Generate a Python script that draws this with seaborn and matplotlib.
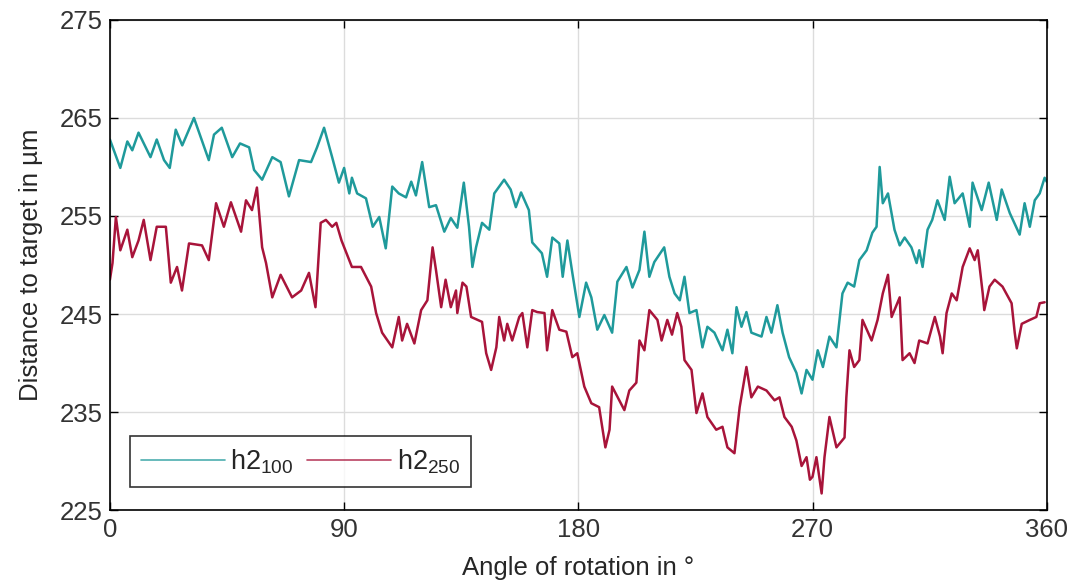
#!/usr/bin/env python3
# plot.py -- distance to target vs angle of rotation

import matplotlib
matplotlib.use('Agg')
import matplotlib.pyplot as plt
import pandas as pd
import seaborn as sns

# Data =========================================================================

angle_100 = [
    0, 4, 6.7, 8.6, 11, 15.6, 18, 20.8, 23, 25.3, 27.8, 32.3, 38, 40, 43, 47,
    50, 53.5, 55.4, 58.5, 62.4, 65.6, 68.8, 72.7, 77.3, 79.6, 82.3, 85.4, 88,
    90, 92, 93, 95, 98.4, 101, 103.5, 106, 108.5, 111, 113.8, 115.8, 117.6,
    120, 122.7, 125.3, 128.5, 131, 133.5, 136, 138, 139.3, 140.7, 143, 145.8,
    147.7, 151.5, 154, 156, 158, 161, 162.3, 166, 168, 170, 172.7, 174, 175.8,
    177.7, 180.4, 183, 185, 187.3, 190, 193, 195, 198.5, 200.8, 203.5, 205.4,
    207.3, 209.2, 213, 215, 217, 219, 220.8, 222.7, 225.4, 227.7, 229.6,
    232.3, 235.4, 237.3, 239.2, 240.8, 242.7, 244.6, 246.5, 250.4, 252.3,
    254.2, 256.5, 258.5, 261, 263.8, 265.8, 267.7, 270, 272, 274, 276.5,
    279.2, 281.5, 283.5, 286, 288, 290.8, 293, 294.6, 295.8, 297, 299, 301.5,
    303.5, 305.4, 308, 310, 311, 312.3, 314.2, 316, 318, 320.8, 322.7, 324.6,
    327.7, 330.4, 331.5, 335, 337.7, 340.8, 342.7, 345.8, 349.6, 351.5, 353.5,
    355.4, 357.3, 359.2, 360,
]
dist_100 = [
    262.8, 259.9, 262.6, 261.7, 263.5, 261.0, 262.8, 260.7, 259.9, 263.8,
    262.2, 265.0, 260.7, 263.3, 264.0, 261.0, 262.4, 262.0, 259.7, 258.7,
    261.0, 260.5, 257.0, 260.7, 260.5, 262.0, 264.0, 261.0, 258.4, 259.9,
    257.3, 258.9, 257.3, 256.8, 253.9, 254.9, 251.7, 258.0, 257.3, 256.9,
    258.5, 257.1, 260.5, 255.9, 256.1, 253.4, 254.8, 253.8, 258.4, 253.9,
    249.8, 251.8, 254.3, 253.6, 257.3, 258.7, 257.7, 255.9, 257.4, 255.6,
    252.3, 251.2, 248.8, 252.8, 252.2, 248.8, 252.5, 249.2, 244.7, 248.2,
    246.7, 243.4, 244.9, 243.1, 248.3, 249.8, 247.7, 249.5, 253.4, 248.8,
    250.3, 251.8, 248.8, 247.1, 246.4, 248.8, 245.1, 245.4, 241.6, 243.7,
    243.1, 241.3, 243.4, 241.0, 245.7, 243.7, 245.2, 243.1, 242.7, 244.7,
    243.1, 245.9, 243.1, 240.6, 239.0, 236.9, 239.3, 238.3, 241.3, 239.6,
    242.7, 241.6, 247.1, 248.2, 247.8, 250.5, 251.5, 253.3, 253.9, 260.0,
    256.3, 257.3, 253.6, 252.0, 252.8, 251.8, 250.2, 251.5, 249.8, 253.6,
    254.6, 256.6, 254.6, 259.0, 256.3, 257.3, 253.9, 258.4, 255.6, 258.4,
    254.6, 257.7, 255.3, 253.1, 256.3, 253.9, 256.6, 257.3, 258.9, 258.5,
]

angle_250 = [
    0, 1, 2.3, 4, 6.7, 8.6, 11, 13, 15.6, 18, 21.5, 23.4, 25.8, 27.7, 30.4,
    35.4, 38, 40.8, 43.8, 46.5, 50.4, 52.3, 54.6, 56.5, 58.5, 60, 62.4, 65.6,
    70, 73.5, 76.5, 79, 81, 83, 85.4, 87, 89, 93, 96.5, 100.4, 102.3, 104.6,
    108.5, 111, 112.3, 114.2, 117, 119.6, 122, 124, 125.3, 127.3, 129, 131,
    133, 133.5, 135.5, 137, 138.8, 143, 144.6, 146.5, 148.5, 149.6, 151.5,
    152.7, 154.6, 157.3, 158.5, 160.4, 162.3, 164.2, 167, 168, 170, 172.7,
    175.4, 177.7, 179.6, 182.3, 185, 188, 190.4, 192, 193, 197.7, 199.6,
    202.3, 203.5, 205.4, 207.3, 210.4, 212, 214.2, 216, 218, 219.6, 220.8,
    223.5, 225.4, 227.7, 229.6, 233, 235.4, 237.3, 240, 242, 244.6, 246.5,
    249, 252.3, 255.4, 257.3, 259.2, 262, 263.8, 265.8, 267.7, 269, 270,
    271.5, 273.5, 274.6, 276.5, 279.2, 282.3, 283, 284.2, 286, 288, 289.2,
    292.7, 295, 297, 299, 300.4, 303.5, 304.6, 307.3, 309.2, 311, 314.2, 317,
    319, 320, 321.5, 323.5, 325.4, 327.7, 330.4, 332.3, 333.5, 335.4, 336,
    338, 340, 343, 346.5, 347.7, 348.5, 350.4, 353.5, 356, 357.3, 359.2,
]
dist_250 = [
    248.5, 250.2, 254.9, 251.5, 253.6, 250.8, 252.5, 254.6, 250.5, 253.9,
    253.9, 248.2, 249.8, 247.4, 252.2, 252.0, 250.5, 256.3, 253.9, 256.4,
    253.4, 256.6, 255.6, 257.9, 251.8, 250.2, 246.7, 249.0, 246.7, 247.4,
    249.2, 245.7, 254.3, 254.6, 253.9, 254.3, 252.5, 249.8, 249.8, 247.8,
    245.1, 243.1, 241.6, 244.7, 242.3, 244.0, 242.0, 245.4, 246.4, 251.8,
    249.5, 245.7, 248.5, 245.7, 247.4, 245.1, 248.2, 247.8, 244.7, 244.2,
    241.0, 239.3, 241.6, 244.7, 242.3, 244.0, 242.3, 244.7, 245.1, 241.6,
    245.4, 245.2, 245.1, 241.3, 245.4, 243.4, 243.2, 240.6, 241.0, 237.6,
    235.9, 235.5, 231.4, 233.2, 237.6, 235.2, 237.2, 238.0, 242.3, 241.3,
    245.4, 244.4, 242.3, 244.4, 242.9, 245.1, 243.7, 240.3, 239.3, 234.9,
    236.9, 234.5, 233.2, 233.5, 231.4, 230.8, 235.5, 239.6, 236.5, 237.6,
    237.2, 236.2, 236.5, 234.5, 233.5, 232.1, 229.5, 230.4, 228.1, 228.4,
    230.4, 226.7, 230.4, 234.5, 231.4, 232.4, 236.5, 241.3, 239.6, 240.3,
    244.4, 242.3, 244.4, 247.1, 249.0, 244.7, 246.7, 240.3, 241.0, 240.0,
    242.3, 242.0, 244.7, 242.7, 241.0, 245.1, 247.1, 246.4, 249.8, 251.7,
    250.5, 251.5, 247.1, 245.4, 247.8, 248.5, 247.8, 246.1, 243.1, 241.5,
    244.0, 244.4, 244.7, 246.1, 246.2,
]

series_labels = [r'$\mathregular{h2_{100}}$', r'$\mathregular{h2_{250}}$']
series_colors = ['#1f9a9b', '#a8143a']

# Plot =========================================================================

sns.set_theme(style='whitegrid')
plt.rcParams['font.family'] = ['Liberation Sans', 'DejaVu Sans']
plt.rcParams['mathtext.fontset'] = 'custom'
plt.rcParams['mathtext.rm'] = 'Liberation Sans'

df = pd.concat([
    pd.DataFrame({'Angle': angle_100, 'Distance': dist_100,
                  'Series': series_labels[0]}),
    pd.DataFrame({'Angle': angle_250, 'Distance': dist_250,
                  'Series': series_labels[1]}),
])

fig = plt.figure(figsize=(10.67, 5.85), dpi=100)
ax = fig.add_axes([0.103, 0.128, 0.878, 0.838])

sns.lineplot(
    data=df, x='Angle', y='Distance', hue='Series',
    palette=dict(zip(series_labels, series_colors)),
    estimator=None, sort=False, linewidth=1.8, ax=ax
)

ax.set_xlim(0, 360)
ax.set_ylim(225, 275)
ax.set_xticks([0, 90, 180, 270, 360])
ax.set_yticks([225, 235, 245, 255, 265, 275])
ax.grid(True, color='#dcdcdc', linewidth=1.0)
for s in ax.spines.values():
    s.set_color('black')
    s.set_linewidth(1.2)
ax.tick_params(direction='in', length=6, width=1, colors='black',
               labelcolor='#333333', labelsize=18.5, top=True, right=True,
               left=True, bottom=True)
ax.tick_params(axis='y', pad=5)
ax.tick_params(axis='x', pad=6)
ax.set_xlabel('Angle of rotation in °', fontsize=18.5, color='#262626',
              labelpad=10)
ax.set_ylabel('Distance to target in µm', fontsize=18.5, color='#262626',
              labelpad=12)

handles, labels = ax.get_legend_handles_labels()
leg = ax.legend(
    handles, labels, ncol=2, loc='lower left',
    bbox_to_anchor=(0.021, 0.047), frameon=True, fancybox=False,
    edgecolor='black', fontsize=19.5, handlelength=3.1, columnspacing=0.5,
    handletextpad=0.2, borderpad=0.42, borderaxespad=0
)
leg.get_frame().set_linewidth(1.2)
for line in leg.get_lines():
    line.set_linewidth(1.2)
    line.set_alpha(0.8)

fig.savefig('out.png', dpi=100, facecolor='white')
